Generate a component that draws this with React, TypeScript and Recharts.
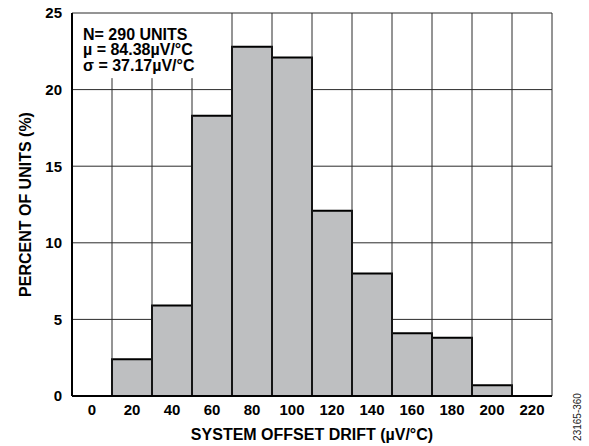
import { BarChart, Bar, XAxis, YAxis, CartesianGrid, ReferenceArea, ReferenceLine } from 'recharts'

// histogram bins (bin centres, µV/°C) and percent of units in each
const driftBins = [20, 40, 60, 80, 100, 120, 140, 160, 180, 200]
const unitPercents = [2.4, 5.9, 18.3, 22.8, 22.1, 12.1, 8.0, 4.1, 3.8, 0.7]
const xTicks = [0, 20, 40, 60, 80, 100, 120, 140, 160, 180, 200, 220]
const yTicks = [0, 5, 10, 15, 20, 25]
const binEdges = [10, 30, 50, 70, 90, 110, 130, 150, 170, 190, 210, 230]
const statsLines = ['N= 290 UNITS', 'µ = 84.38µV/°C', 'σ = 37.17µV/°C']

const data = driftBins.map((d, i) => ({ drift: d, pct: unitPercents[i] }))

const FONT = '"Liberation Sans", Arial, Helvetica, sans-serif'
const INK = '#000'
const GRID = '#2b2b2b'
// stats box area (in data units) that hides the grid behind the text
const BOX_RIGHT = 68
const BOX_BOTTOM = 20.75

export default function App() {
  return (
    <div style={{ position: 'absolute', left: 0, top: 0, width: 589, height: 446, background: '#fff', fontFamily: FONT }}>
      <BarChart
        width={589}
        height={446}
        data={data}
        margin={{ top: 13, right: 37, left: 0, bottom: 0 }}
        barCategoryGap={0}
        barGap={0}
      >
        <CartesianGrid vertical={false} stroke={GRID} strokeWidth={1} />
        {binEdges.map((v) => (
          <ReferenceLine
            key={v}
            segment={[
              { x: v, y: 0 },
              { x: v, y: v < BOX_RIGHT ? BOX_BOTTOM : 25 },
            ]}
            stroke={GRID}
            strokeWidth={1}
          />
        ))}
        <ReferenceArea
          x1={-10}
          x2={BOX_RIGHT}
          y1={BOX_BOTTOM}
          y2={24.9}
          fill="#fff"
          fillOpacity={1}
          stroke="none"
          label={{
            content: (p: any) => {
              const vb = p.viewBox || { x: 0, y: 0 }
              return (
                <text x={vb.x + 11} y={vb.y + 25} fontFamily={FONT} fontWeight="bold" fontSize={16} fill={INK}>
                  {statsLines.map((s, i) => (
                    <tspan key={i} x={vb.x + 11} dy={i === 0 ? 0 : 15.5}>{s}</tspan>
                  ))}
                </text>
              )
            },
          }}
        />
        <XAxis
          dataKey="drift"
          type="number"
          domain={[-10, 230]}
          ticks={xTicks}
          height={50}
          tickLine={false}
          axisLine={{ stroke: INK, strokeWidth: 2 }}
          tick={{ fontFamily: FONT, fontWeight: 'bold', fontSize: 15, fill: INK }}
          interval={0}
          label={{
            value: 'SYSTEM OFFSET DRIFT (µV/°C)',
            position: 'insideBottom',
            offset: 6,
            fontFamily: FONT,
            fontWeight: 'bold',
            fontSize: 16,
            fill: INK,
          }}
        />
        <YAxis
          width={72}
          domain={[0, 25]}
          ticks={yTicks}
          tickLine={false}
          tickMargin={4}
          axisLine={{ stroke: INK, strokeWidth: 2 }}
          tick={{ fontFamily: FONT, fontWeight: 'bold', fontSize: 15, fill: INK }}
          label={{
            content: (p: any) => {
              const vb = p.viewBox || { x: 0, y: 0, height: 0 }
              const cx = vb.x + 25
              const cy = vb.y + vb.height / 2
              return (
                <text
                  x={cx}
                  y={cy}
                  transform={`rotate(-90, ${cx}, ${cy})`}
                  textAnchor="middle"
                  dominantBaseline="central"
                  fontFamily={FONT}
                  fontWeight="bold"
                  fontSize={16}
                  fill={INK}
                >
                  PERCENT OF UNITS (%)
                </text>
              )
            },
          }}
        />
        <Bar dataKey="pct" fill="#bebfc1" stroke={INK} strokeWidth={2} isAnimationActive={false} />
      </BarChart>
      <div
        style={{
          position: 'absolute',
          left: 577,
          top: 417,
          transform: 'translate(-50%, -50%) rotate(-90deg)',
          fontFamily: FONT,
          fontSize: 10,
          color: '#222',
          whiteSpace: 'nowrap',
        }}
      >
        23165-360
      </div>
    </div>
  )
}
